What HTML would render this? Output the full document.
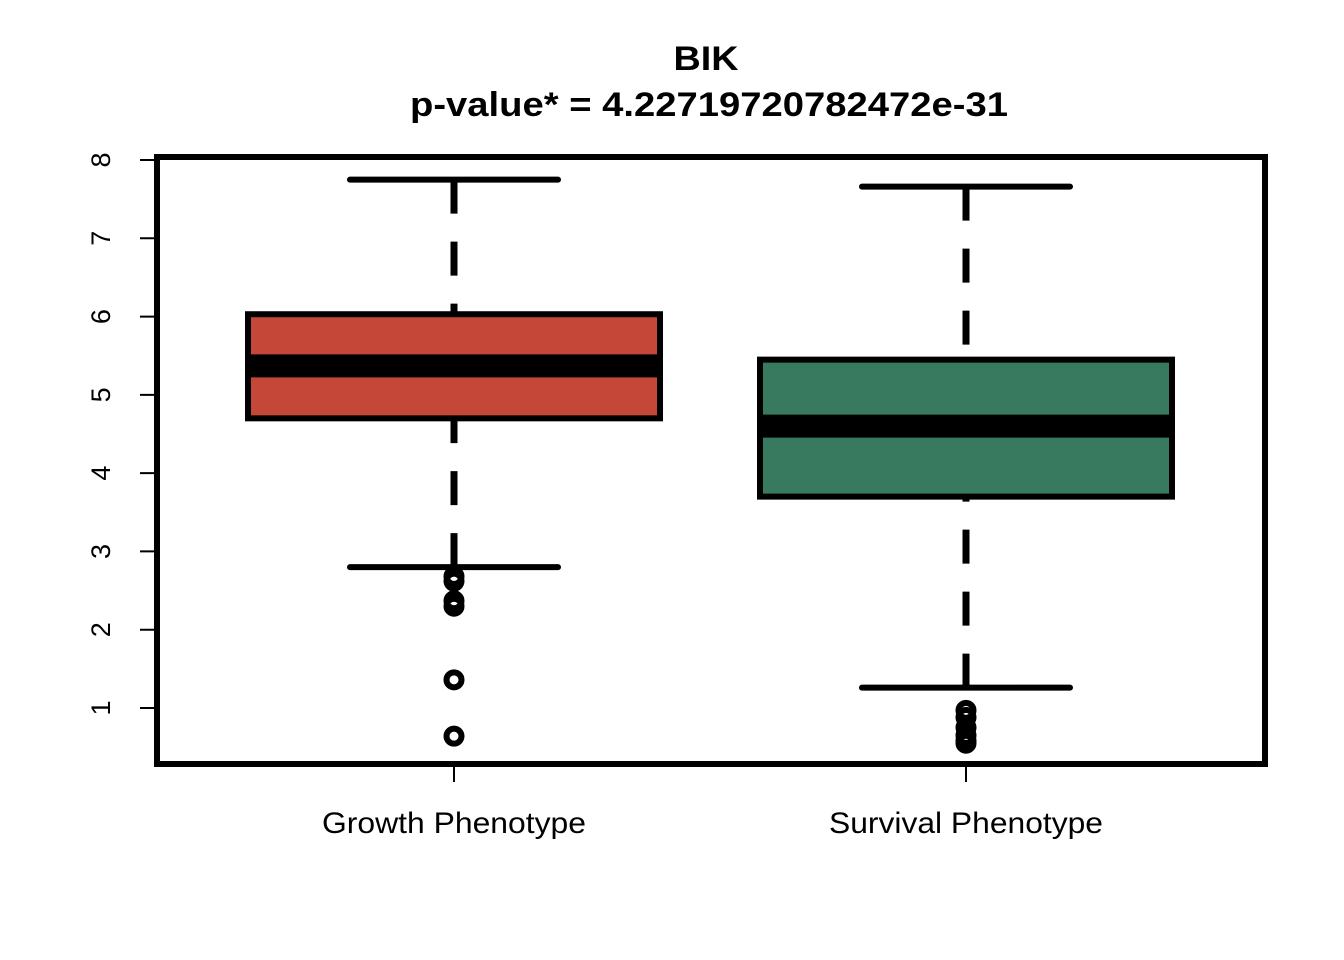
<!DOCTYPE html>
<html><head><meta charset="utf-8"><style>body{margin:0;background:#fff}svg{display:block}</style></head>
<body>
<svg id="chart" width="1344" height="960" xmlns="http://www.w3.org/2000/svg" font-family="Liberation Sans, Arial, sans-serif">
<text x="706" y="70" text-anchor="middle" font-size="34" font-weight="bold" textLength="65" lengthAdjust="spacingAndGlyphs">BIK</text>
<text x="709" y="116" text-anchor="middle" font-size="34" font-weight="bold" textLength="598" lengthAdjust="spacingAndGlyphs">p-value* = 4.22719720782472e-31</text>
<g id="marks"></g>
<rect x="157" y="157" width="1108" height="607" fill="none" stroke="#000" stroke-width="6"/>
</svg>
<script>
const categories = ["Growth Phenotype", "Survival Phenotype"];
const colors = ["#c44737", "#387a60"];
const whiskerLow = [2.8, 1.26];
const q1 = [4.7, 3.7];
const median = [5.37, 4.6];
const q3 = [6.03, 5.45];
const whiskerHigh = [7.75, 7.66];
const outliers = [[2.68, 2.62, 2.37, 2.3, 1.36, 0.64], [0.97, 0.88, 0.75, 0.65, 0.58, 0.55]];
const yTicks = [1, 2, 3, 4, 5, 6, 7, 8];

const y = v => 708 - (v - 1) * (708 - 160) / 7;
const x = i => 454 + i * 512;
const NS = "http://www.w3.org/2000/svg";
const g = document.getElementById("marks");
function mk(tag, attrs, parent) {
  const e = document.createElementNS(NS, tag);
  for (const k in attrs) e.setAttribute(k, attrs[k]);
  (parent || g).appendChild(e);
  return e;
}
yTicks.forEach(t => {
  const l = mk("line", {x1: 140, x2: 157, y1: y(t), y2: y(t), stroke: "#000", "stroke-width": 2});
  
  
  const tx = mk("text", {x: 0, y: 0, transform: `translate(110,${y(t)}) rotate(-90)`, "text-anchor": "middle", "font-size": 27});
  tx.textContent = t;
  
  
});
categories.forEach((c, i) => {
  const cx = x(i);
  const tk = mk("line", {x1: cx, x2: cx, y1: 764, y2: 782, stroke: "#000", "stroke-width": 2});
  
  
  const lb = mk("text", {x: cx, y: 833, "text-anchor": "middle", "font-size": 30, textLength: i === 0 ? 264 : 274, lengthAdjust: "spacingAndGlyphs"});
  lb.textContent = c;
  
  
  const w1 = mk("line", {x1: cx, x2: cx, y1: y(whiskerHigh[i]), y2: y(q3[i]), stroke: "#000", "stroke-width": 7, "stroke-dasharray": "34 28"});
  
  
  const w2 = mk("line", {x1: cx, x2: cx, y1: y(whiskerLow[i]), y2: y(q1[i]), stroke: "#000", "stroke-width": 7, "stroke-dasharray": "34 28"});
  
  
  [whiskerHigh[i], whiskerLow[i]].forEach(v => {
    const cap = mk("line", {x1: cx - 104, x2: cx + 104, y1: y(v), y2: y(v), stroke: "#000", "stroke-width": 6, "stroke-linecap": "round"});
    
    
  });
  const b = mk("rect", {x: cx - 206, y: y(q3[i]), width: 412, height: y(q1[i]) - y(q3[i]), fill: colors[i], stroke: "#000", "stroke-width": 6});
  
  
  const m = mk("line", {x1: cx - 206, x2: cx + 206, y1: y(median[i]), y2: y(median[i]), stroke: "#000", "stroke-width": 23});
  
  
  outliers[i].forEach(v => {
    const o = mk("circle", {cx: cx, cy: y(v), r: 7.5, fill: "none", stroke: "#000", "stroke-width": 6});
    
    
  });
});
</script>
</body></html>
